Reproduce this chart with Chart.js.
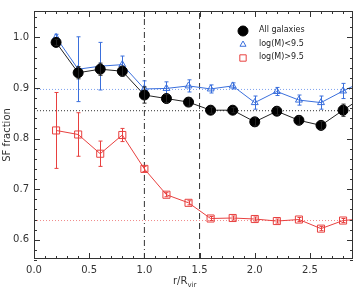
<!DOCTYPE html>
<html>
<head>
<meta charset="utf-8">
<script src="https://cdn.jsdelivr.net/npm/chart.js@4/dist/chart.umd.min.js"></script>
<style>
  html, body { margin: 0; padding: 0; background: #fff; }
  #wrap { width: 359px; height: 287px; position: relative; }
</style>
</head>
<body>
<div id="wrap"><canvas id="sfChart"></canvas></div>
<script>
// radial bins (r / R_vir); last bin sits just past the frame and is clipped
const radius = [0.2, 0.4, 0.6, 0.8, 1.0, 1.2, 1.4, 1.6, 1.8, 2.0, 2.2, 2.4, 2.6, 2.8, 3.0];

// SF fraction, all galaxies
const allFrac = [0.990, 0.930, 0.937, 0.933, 0.886, 0.879, 0.872, 0.856, 0.856, 0.833, 0.854, 0.836, 0.826, 0.856, 0.885];
const allErr  = [0.006, 0.012, 0.012, 0.010, 0.016, 0.008, 0.008, 0.006, 0.005, 0.008, 0.007, 0.008, 0.008, 0.012, 0.012];

// log(M) < 9.5
const lowFrac = [1.000, 0.937, 0.943, 0.946, 0.898, 0.899, 0.904, 0.898, 0.904, 0.871, 0.893, 0.876, 0.871, 0.894, 0.915];
const lowErr  = [0.006, 0.064, 0.047, 0.017, 0.016, 0.013, 0.012, 0.008, 0.006, 0.013, 0.008, 0.010, 0.013, 0.015, 0.015];

// log(M) > 9.5
const highFrac = [0.816, 0.808, 0.770, 0.807, 0.740, 0.689, 0.673, 0.642, 0.643, 0.641, 0.637, 0.640, 0.622, 0.638, 0.642];
const highErr  = [0.075, 0.043, 0.025, 0.013, 0.005, 0.004, 0.004, 0.004, 0.004, 0.004, 0.004, 0.004, 0.004, 0.004, 0.004];

// mean levels (dotted) and the two vertical markers
const meanAll = 0.855, meanLow = 0.897, meanHigh = 0.638;
const vDashDot = 1.0, vDashed = 1.5;

const xTicks = [0.0, 0.5, 1.0, 1.5, 2.0, 2.5];
const yTicks = [0.6, 0.7, 0.8, 0.9, 1.0];
const xMin = 0, xMax = 2.89, yMin = 0.562, yMax = 1.052;

const BLUE = '#3a6fdc', RED = '#e8403f', INK = '#222';
const labels = ['All galaxies', 'log(M)<9.5', 'log(M)>9.5'];

function pts(ys) { return radius.map((x, i) => ({ x: x, y: ys[i] })); }
function hline(y) { return [{ x: xMin, y: y }, { x: xMax, y: y }]; }
function vline(x) { return [{ x: x, y: yMin }, { x: x, y: yMax }]; }

const errBars = { 0: allErr, 1: lowErr, 2: highErr };

// error bars, drawn per series with small caps
const errorBarPlugin = {
    id: 'errorBars',
    afterDatasetDraw(chart, args) {
        const errs = errBars[args.index];
        if (!errs) return;
        const ds = chart.data.datasets[args.index];
        const { ctx, chartArea } = chart;
        const xs = chart.scales.x, ys = chart.scales.y;
        ctx.save();
        ctx.beginPath();
        ctx.rect(chartArea.left, chartArea.top, chartArea.right - chartArea.left, chartArea.bottom - chartArea.top);
        ctx.clip();
        ctx.strokeStyle = ds.borderColor;
        ctx.lineWidth = 1;
        ds.data.forEach((p, i) => {
            const px = Math.round(xs.getPixelForValue(p.x)) + 0.5;
            const y1 = ys.getPixelForValue(p.y + errs[i]);
            const y2 = ys.getPixelForValue(p.y - errs[i]);
            ctx.beginPath();
            ctx.moveTo(px, y1); ctx.lineTo(px, y2);
            ctx.moveTo(px - 2, y1); ctx.lineTo(px + 2, y1);
            ctx.moveTo(px - 2, y2); ctx.lineTo(px + 2, y2);
            ctx.stroke();
        });
        ctx.restore();
    }
};

// box frame with inward major/minor ticks on all four sides, plus axis titles and legend
const framePlugin = {
    id: 'frame',
    afterDraw(chart) {
        const { ctx, chartArea: a } = chart;
        const xs = chart.scales.x, ys = chart.scales.y;
        ctx.save();
        ctx.strokeStyle = '#333';
        ctx.lineWidth = 1;
        ctx.strokeRect(Math.round(a.left) + 0.5, Math.round(a.top) + 0.5,
            Math.round(a.right - a.left) - 1, Math.round(a.bottom - a.top) - 1);
        ctx.beginPath();
        for (let v = 0; v <= xMax + 1e-9; v += 0.1) {
            const major = Math.abs(v * 2 - Math.round(v * 2)) < 1e-6;
            const len = major ? 6 : 3;
            const px = Math.round(xs.getPixelForValue(v)) + 0.5;
            ctx.moveTo(px, a.bottom); ctx.lineTo(px, a.bottom - len);
            ctx.moveTo(px, a.top); ctx.lineTo(px, a.top + len);
        }
        for (let v = 0.56; v <= yMax + 1e-9; v += 0.02) {
            const major = Math.abs(v * 10 - Math.round(v * 10)) < 1e-6;
            const len = major ? 6 : 3;
            const py = Math.round(ys.getPixelForValue(v)) + 0.5;
            ctx.moveTo(a.left, py); ctx.lineTo(a.left + len, py);
            ctx.moveTo(a.right, py); ctx.lineTo(a.right - len, py);
        }
        ctx.stroke();

        // axis titles
        ctx.fillStyle = '#333';
        ctx.font = '10px "DejaVu Sans"';
        ctx.textAlign = 'center';
        ctx.textBaseline = 'middle';
        ctx.save();
        ctx.translate(7, (a.top + a.bottom) / 2);
        ctx.rotate(-Math.PI / 2);
        ctx.fillText('SF fraction', 0, 0);
        ctx.restore();
        ctx.textAlign = 'left';
        ctx.textBaseline = 'alphabetic';
        const tx = 173, ty = 284;
        ctx.fillText('r/R', tx, ty);
        const w = ctx.measureText('r/R').width;
        ctx.font = '7px "DejaVu Sans"';
        ctx.fillText('vir', tx + w, ty + 3);

        // legend
        const sets = chart.data.datasets.slice(0, 3);
        const legendSize = [5, 3.5, 4.5];
        ctx.font = '8px "DejaVu Sans"';
        ctx.textBaseline = 'middle';
        sets.forEach((ds, i) => {
            const ly = 31 + i * 13.5;
            ctx.fillStyle = ds.pointBackgroundColor;
            ctx.strokeStyle = ds.pointBorderColor;
            ctx.lineWidth = 1;
            Chart.helpers.drawPoint(ctx, {
                pointStyle: ds.pointStyle,
                radius: legendSize[i],
                borderWidth: 1,
                rotation: 0
            }, 243, ly);
            ctx.fillStyle = INK;
            ctx.fillText(labels[i], 259, ly - 1);
        });
        ctx.restore();
    }
};

const refLine = (data, color, dash) => ({
    data: data, borderColor: color, borderWidth: 1, borderDash: dash,
    pointRadius: 0, fill: false, showLine: true
});

const chart = new Chart(document.getElementById('sfChart'), {
    type: 'line',
    data: {
        datasets: [
            {
                label: labels[0], data: pts(allFrac), borderColor: INK, borderWidth: 1,
                pointStyle: 'circle', pointRadius: 5, pointBackgroundColor: '#000', pointBorderColor: '#000'
            },
            {
                label: labels[1], data: pts(lowFrac), borderColor: BLUE, borderWidth: 1,
                pointStyle: 'triangle', pointRadius: 4, pointBackgroundColor: 'rgba(255,255,255,0)', pointBorderColor: BLUE
            },
            {
                label: labels[2], data: pts(highFrac), borderColor: RED, borderWidth: 1,
                pointStyle: 'rect', pointRadius: 5, pointBackgroundColor: 'rgba(255,255,255,0)', pointBorderColor: RED
            },
            refLine(hline(meanAll), '#333', [1, 2]),
            refLine(hline(meanLow), '#7fa2ee', [1, 2]),
            refLine(hline(meanHigh), '#f08a8a', [1, 2]),
            refLine(vline(vDashDot), '#333', [6, 3, 1, 3]),
            refLine(vline(vDashed), '#333', [6, 4])
        ]
    },
    options: {
        responsive: true,
        maintainAspectRatio: false,
        animation: false,
        layout: { padding: { top: 5, right: 5, left: 0, bottom: 0 } },
        plugins: { legend: { display: false }, tooltip: { enabled: false } },
        elements: { line: { tension: 0 } },
        scales: {
            x: {
                type: 'linear', min: xMin, max: xMax,
                grid: { display: false, drawTicks: false }, border: { display: false },
                afterBuildTicks: s => { s.ticks = xTicks.map(v => ({ value: v })); },
                afterFit: s => { s.height = 28; },
                ticks: {
                    color: '#333', font: { family: 'DejaVu Sans', size: 10 }, padding: 5,
                    maxRotation: 0, callback: v => v.toFixed(1)
                }
            },
            y: {
                type: 'linear', min: yMin, max: yMax,
                grid: { display: false, drawTicks: false }, border: { display: false },
                afterBuildTicks: s => { s.ticks = yTicks.map(v => ({ value: v })); },
                afterFit: s => { s.width = 34; },
                ticks: {
                    color: '#333', font: { family: 'DejaVu Sans', size: 10 }, padding: 5,
                    callback: v => v.toFixed(1)
                }
            }
        }
    },
    plugins: [errorBarPlugin, framePlugin]
});
</script>
</body>
</html>
